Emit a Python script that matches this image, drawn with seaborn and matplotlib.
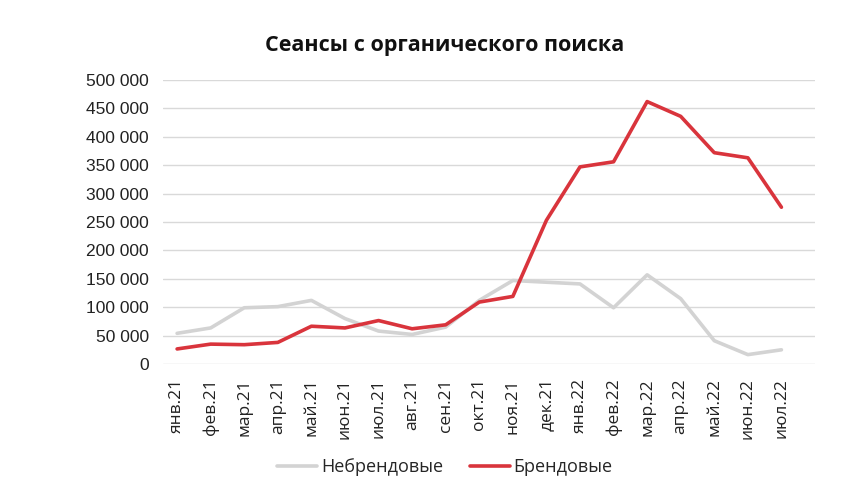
import matplotlib
matplotlib.use("Agg")
import matplotlib.pyplot as plt
import seaborn as sns
import pandas as pd
from matplotlib.ticker import FuncFormatter
from matplotlib.lines import Line2D

months = ["янв.21", "фев.21", "мар.21", "апр.21", "май.21", "июн.21", "июл.21",
          "авг.21", "сен.21", "окт.21", "ноя.21", "дек.21", "янв.22", "фев.22",
          "мар.22", "апр.22", "май.22", "июн.22", "июл.22"]
nonbrand = [54000, 63500, 99000, 101000, 112000, 80000, 58000, 52000, 65000,
            112000, 147000, 144000, 141000, 99000, 157000, 115000, 41000, 16500, 25000]
brand = [26500, 35000, 34000, 38000, 66500, 63500, 76500, 62000, 69000,
         109000, 119000, 253000, 347000, 356000, 462000, 436000, 372000, 363000, 276000]
yticks = list(range(0, 500001, 50000))

df = pd.DataFrame({
    "x": list(range(len(months))) * 2,
    "value": nonbrand + brand,
    "series": ["Небрендовые"] * len(months) + ["Брендовые"] * len(months),
})

sns.set_theme(style="white")
plt.rcParams['font.family'] = ['Open Sans', 'DejaVu Sans']

fig = plt.figure(figsize=(8.68, 4.88), dpi=100)
ax = fig.add_axes([163/868, 1-364/488, (815-163)/868, (364-80)/488])

sns.lineplot(data=df, x="x", y="value", hue="series",
             palette={"Небрендовые": "#d3d3d3", "Брендовые": "#d9343c"},
             linewidth=2.6, ax=ax, legend=False)

ax.set_xlim(-0.42, 19.0)
ax.set_ylim(0, 500000)
ax.set_yticks(yticks)
ax.yaxis.set_major_formatter(FuncFormatter(lambda v, p: f"{int(v):,}".replace(",", " ")))
for lab in ax.get_yticklabels():
    lab.set_fontfamily(['Liberation Sans', 'DejaVu Sans'])
ax.tick_params(axis='y', labelsize=12.5, length=0, pad=10, labelcolor="#222222")
ax.set_xticks(range(len(months)))
ax.set_xticklabels(months, rotation=90, fontsize=12.5, color="#222222")
ax.tick_params(axis='x', length=0, pad=10)
ax.grid(axis='y', color="#d9d9d9", linewidth=1)
ax.set_axisbelow(True)
for s in ax.spines.values():
    s.set_visible(False)
ax.set_xlabel("")
ax.set_ylabel("")

fig.text(445/868, 1-45/488, "Сеансы с органического поиска", ha="center", va="center",
         fontsize=15.5, fontweight="bold", color="#111111")

handles = [Line2D([], [], color="#d3d3d3", lw=2.6), Line2D([], [], color="#d9343c", lw=2.6)]
fig.legend(handles, ["Небрендовые", "Брендовые"], loc="center", bbox_to_anchor=(445/868, 1-467/488),
           ncol=2, frameon=False, fontsize=13, handlelength=2.2, handletextpad=0.2, columnspacing=1.5)

fig.savefig("out.png", dpi=100)
